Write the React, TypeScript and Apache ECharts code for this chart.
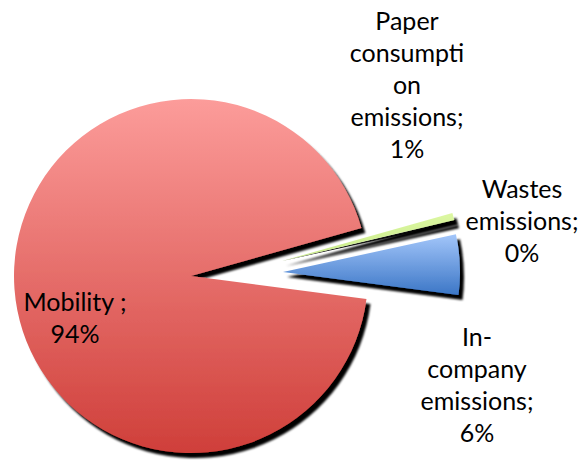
import React, { useEffect, useRef } from "react";
import * as echarts from "echarts";

// Emission sources, in the order the slices run clockwise
const categories = ["In-company emissions", "Mobility ", "Paper consumption emissions", "Wastes emissions"];
// Label text as it wraps on the chart
const labelNames = ["In-\ncompany\nemissions", "Mobility ", "Paper\nconsumpti\non\nemissions", "Wastes\nemissions"];
// Share of total emissions (%)
const shares = [5.51, 93.55, 0.65, 0.29];

const fills: [string, string][] = [
  ["#a3c6fa", "#3b76c6"],
  ["#fc9c9a", "#cf3f3a"],
  ["#dcf7a2", "#c8ea88"],
  ["#1c1c1c", "#101010"],
];

// How far each slice is pulled out of the pie (px, screen axes)
const pullOut: [number, number][] = [
  [92, -4],
  [0, 0],
  [91, -15],
  [91, -15],
];

// Label anchor points (centre of each text block)
const labelPos: [number, number][] = [
  [477, 384],
  [75, 317],
  [407, 84],
  [522, 220],
];

const CENTER: [number, number] = [191, 276];
const RADIUS = 177;
const START_ANGLE = 12.34;

export default function App() {
  const ref = useRef<HTMLDivElement>(null);

  useEffect(() => {
    if (!ref.current) return;
    const chart = echarts.init(ref.current, undefined, { renderer: "svg" });
    const total = shares.reduce((a, b) => a + b, 0);

    // One pie per slice: the slice itself is painted, the rest stay invisible,
    // so each pulled-out slice can sit on its own shifted centre.
    const series = categories.map((_, k) => ({
      type: "pie",
      center: [CENTER[0] + pullOut[k][0], CENTER[1] + pullOut[k][1]],
      radius: RADIUS,
      startAngle: START_ANGLE,
      clockwise: true,
      silent: true,
      avoidLabelOverlap: false,
      emphasis: { disabled: true },
      z: k === 1 ? 1 : k === 3 ? 2 : 3,
      data: categories.map((name, i) => ({
        name,
        value: shares[i],
        itemStyle:
          i === k
            ? {
                color: new echarts.graphic.LinearGradient(0, 0, 0, 1, [
                  { offset: 0, color: fills[i][0] },
                  { offset: 1, color: fills[i][1] },
                ]),
                borderWidth: 0,
                shadowColor: "rgba(0,0,0,1)",
                shadowBlur: 2,
                shadowOffsetX: 4,
                shadowOffsetY: 5,
              }
            : { color: "rgba(0,0,0,0)", borderWidth: 0 },
        label: { show: i === k },
      })),
      label: {
        position: "outside",
        formatter: (p: any) =>
          labelNames[p.dataIndex] + ";\n" + Math.round((p.value / total) * 100) + "%",
        fontFamily: "Lato",
        fontSize: 25,
        lineHeight: 32,
        color: "#000000",
        align: "center",
      },
      labelLine: { show: false },
      labelLayout: (params: any) => ({
        x: labelPos[params.dataIndex][0],
        y: labelPos[params.dataIndex][1],
        align: "center",
        verticalAlign: "middle",
      }),
    }));

    chart.setOption({
      animation: false,
      backgroundColor: "#ffffff",
      series,
    });

    return () => chart.dispose();
  }, []);

  return (
    <div
      ref={ref}
      style={{ position: "fixed", left: 0, top: 0, width: 583, height: 460 }}
    />
  );
}
